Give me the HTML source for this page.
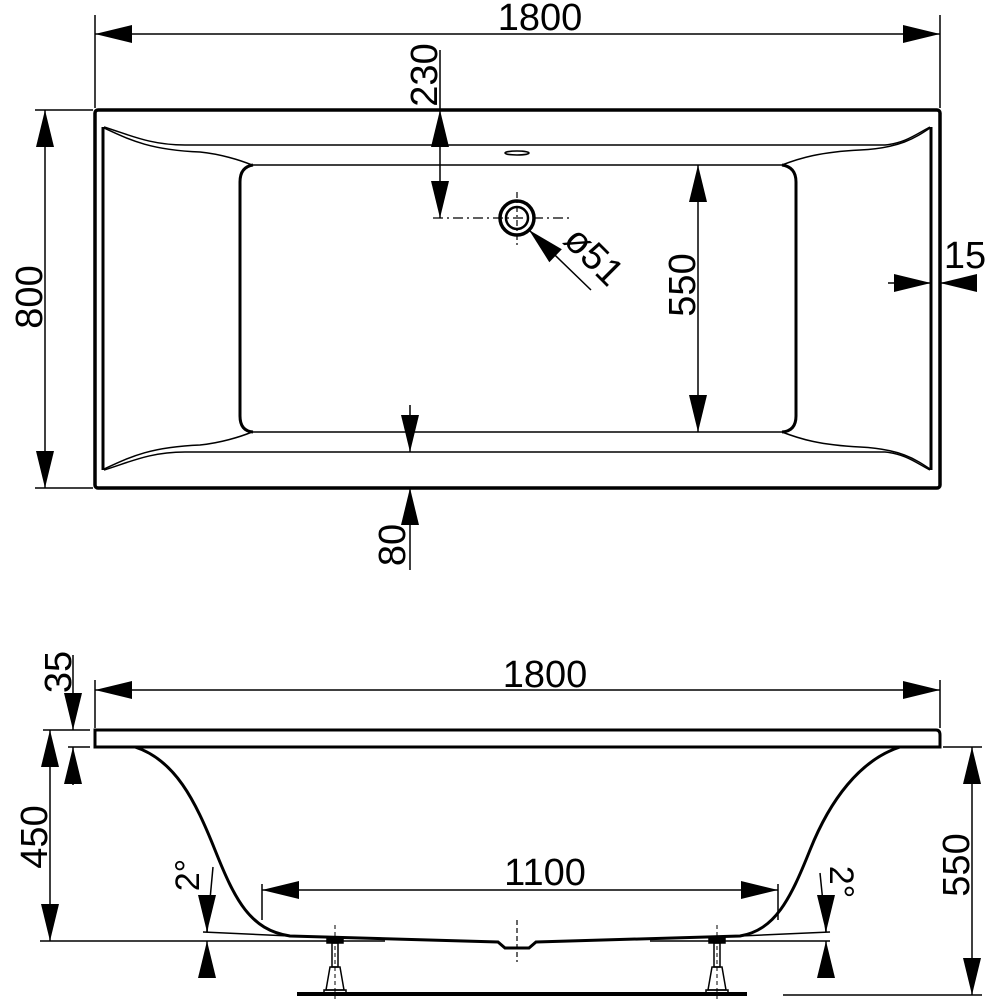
<!DOCTYPE html>
<html><head><meta charset="utf-8"><style>
html,body{margin:0;padding:0;background:#fff}
svg{display:block}
text{font-family:"Liberation Sans",Arial,sans-serif;font-size:38px;fill:#000}
</style></head><body>
<svg width="1000" height="1000" viewBox="0 0 1000 1000" xmlns="http://www.w3.org/2000/svg">
<defs>
<marker id="a" markerUnits="userSpaceOnUse" markerWidth="40" markerHeight="20" viewBox="-40 -10 40 20" refX="0" refY="0" orient="auto-start-reverse">
<polygon points="0,0 -37,-9 -37,9" fill="#000"/>
</marker>
</defs>
<g fill="none" stroke="#000" stroke-linecap="butt">
<!-- TOP VIEW -->
<rect x="95" y="110" width="845" height="378" rx="3" stroke-width="3.5"/>
<line x1="103" y1="127" x2="103" y2="470" stroke-width="3"/>
<line x1="931" y1="127" x2="931" y2="470" stroke-width="3"/>
<path d="M104,127 C130,135 150,145 185,145 L885,145 C905,143 915,135 930,127" stroke-width="1.5"/>
<path d="M104,128 C130,140 150,150 200,152 C220,154 240,160 252,165 L782,165 C800,158 820,152 860,150 C900,148 915,138 930,128" stroke-width="1.5"/>
<path d="M104,470 C130,462 150,452 185,452 L885,452 C905,454 915,462 930,470" stroke-width="1.5"/>
<path d="M104,469 C130,457 150,447 200,445 C220,443 240,437 252,432 L782,432 C800,439 820,445 860,447 C900,449 915,459 930,469" stroke-width="1.5"/>
<path d="M253,165 Q240,167 240,182 L240,416 Q240,431 253,432 M782,165 Q796,167 796,182 L796,416 Q796,431 782,432" stroke-width="3"/>
<ellipse cx="517" cy="153" rx="12" ry="2" stroke-width="1.5"/>
<circle cx="517" cy="218" r="17" stroke-width="3.5"/>
<circle cx="517" cy="218" r="11" stroke-width="2.5"/>
<line x1="433" y1="218" x2="570" y2="218" stroke-width="1.2" stroke-dasharray="10,4,2,4"/>
<line x1="517" y1="192" x2="517" y2="248" stroke-width="1.2" stroke-dasharray="6,3,2,3"/>
<line x1="591" y1="290" x2="529" y2="230" stroke-width="1.5" marker-end="url(#a)"/>
<line x1="95" y1="15" x2="95" y2="108" stroke-width="1.5"/>
<line x1="940" y1="15" x2="940" y2="108" stroke-width="1.5"/>
<line x1="95" y1="34" x2="940" y2="34" stroke-width="1.5" marker-start="url(#a)" marker-end="url(#a)"/>
<line x1="35" y1="110" x2="93" y2="110" stroke-width="1.5"/>
<line x1="35" y1="488" x2="93" y2="488" stroke-width="1.5"/>
<line x1="45" y1="110" x2="45" y2="488" stroke-width="1.5" marker-start="url(#a)" marker-end="url(#a)"/>
<line x1="440" y1="50" x2="440" y2="110" stroke-width="1.5"/>
<line x1="440" y1="110" x2="440" y2="218" stroke-width="1.5" marker-start="url(#a)" marker-end="url(#a)"/>
<line x1="698" y1="165" x2="698" y2="432" stroke-width="1.5" marker-start="url(#a)" marker-end="url(#a)"/>
<line x1="888" y1="283" x2="931" y2="283" stroke-width="1.5" marker-end="url(#a)"/>
<line x1="975" y1="283" x2="940" y2="283" stroke-width="1.5" marker-end="url(#a)"/>
<line x1="410" y1="405" x2="410" y2="452" stroke-width="1.5" marker-end="url(#a)"/>
<line x1="410" y1="570" x2="410" y2="488" stroke-width="1.5" marker-end="url(#a)"/>

<!-- SIDE VIEW -->
<path d="M95,730 L936,730 Q940,730 940,735 L940,747 L95,747 Z" stroke-width="3"/>
<path d="M135,747 C175,760 195,800 215,850 C235,900 250,930 290,936 L498,942 L505,948 L529,948 L536,942 L740,936 C775,930 790,900 810,850 C830,800 860,760 900,747" stroke-width="3"/>
<line x1="203" y1="932" x2="290" y2="936" stroke-width="1.5"/>
<line x1="740" y1="936" x2="830" y2="932" stroke-width="1.5"/>
<line x1="200" y1="941" x2="385" y2="941" stroke-width="1.5"/>
<line x1="650" y1="941" x2="830" y2="941" stroke-width="1.5"/>
<line x1="297" y1="994" x2="747" y2="994" stroke-width="4"/>
<line x1="517" y1="920" x2="517" y2="962" stroke-width="1.2" stroke-dasharray="5,3"/>
<g stroke-width="1.5">
<rect x="327" y="938" width="16" height="5" fill="#000"/>
<rect x="332" y="943" width="6" height="24"/>
<path d="M330,967 L340,967 L344,990 L326,990 Z"/>
<rect x="324" y="990" width="22" height="3"/>
<line x1="335" y1="925" x2="335" y2="1000" stroke-width="1" stroke-dasharray="4,3"/>
<rect x="709" y="938" width="16" height="5" fill="#000"/>
<rect x="714" y="943" width="6" height="24"/>
<path d="M712,967 L722,967 L726,990 L708,990 Z"/>
<rect x="706" y="990" width="22" height="3"/>
<line x1="717" y1="925" x2="717" y2="1000" stroke-width="1" stroke-dasharray="4,3"/>
</g>
<line x1="95" y1="680" x2="95" y2="728" stroke-width="1.5"/>
<line x1="940" y1="680" x2="940" y2="728" stroke-width="1.5"/>
<line x1="95" y1="690" x2="940" y2="690" stroke-width="1.5" marker-start="url(#a)" marker-end="url(#a)"/>
<line x1="43" y1="730" x2="90" y2="730" stroke-width="1.5"/>
<line x1="68" y1="747" x2="90" y2="747" stroke-width="1.5"/>
<line x1="73" y1="655" x2="73" y2="730" stroke-width="1.5" marker-end="url(#a)"/>
<line x1="73" y1="785" x2="73" y2="747" stroke-width="1.5" marker-end="url(#a)"/>
<line x1="50" y1="730" x2="50" y2="941" stroke-width="1.5" marker-start="url(#a)" marker-end="url(#a)"/>
<line x1="40" y1="941" x2="200" y2="941" stroke-width="1.5"/>
<line x1="262" y1="884" x2="262" y2="920" stroke-width="1.5"/>
<line x1="778" y1="884" x2="778" y2="920" stroke-width="1.5"/>
<line x1="262" y1="890" x2="778" y2="890" stroke-width="1.5" marker-start="url(#a)" marker-end="url(#a)"/>
<line x1="213" y1="867" x2="207" y2="932" stroke-width="1.5"/>
<line x1="207" y1="895" x2="207" y2="932" stroke-width="1.5" marker-end="url(#a)"/>
<line x1="207" y1="978" x2="207" y2="941" stroke-width="1.5" marker-end="url(#a)"/>
<line x1="820" y1="873" x2="826" y2="932" stroke-width="1.5"/>
<line x1="826" y1="895" x2="826" y2="932" stroke-width="1.5" marker-end="url(#a)"/>
<line x1="826" y1="978" x2="826" y2="941" stroke-width="1.5" marker-end="url(#a)"/>
<line x1="943" y1="747" x2="982" y2="747" stroke-width="1.5"/>
<line x1="783" y1="995" x2="982" y2="995" stroke-width="1.5"/>
<line x1="972" y1="747" x2="972" y2="995" stroke-width="1.5" marker-start="url(#a)" marker-end="url(#a)"/>
</g>
<text x="540" y="30" text-anchor="middle">1800</text>
<text transform="translate(42,297) rotate(-90)" text-anchor="middle">800</text>
<text transform="translate(437,75) rotate(-90)" text-anchor="middle">230</text>
<text transform="translate(695,285) rotate(-90)" text-anchor="middle">550</text>
<text x="965" y="268" text-anchor="middle">15</text>
<text transform="translate(405,545) rotate(-90)" text-anchor="middle">80</text>
<text transform="translate(585,265) rotate(45)" text-anchor="middle">ø51</text>
<text x="545" y="687" text-anchor="middle">1800</text>
<text transform="translate(71,672) rotate(-90)" text-anchor="middle">35</text>
<text transform="translate(47,837) rotate(-90)" text-anchor="middle">450</text>
<text x="545" y="885" text-anchor="middle">1100</text>
<text transform="translate(199,875) rotate(-90)" text-anchor="middle" style="font-size:34px">2°</text>
<text transform="translate(830,882) rotate(90)" text-anchor="middle" style="font-size:34px">2°</text>
<text transform="translate(969,865) rotate(-90)" text-anchor="middle">550</text>
</svg>
</body></html>
